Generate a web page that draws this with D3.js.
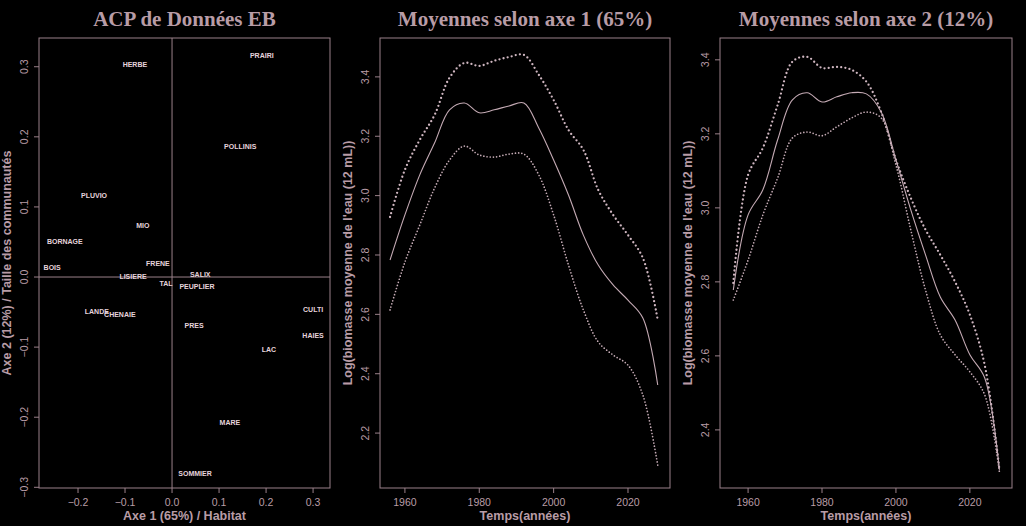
<!DOCTYPE html>
<html>
<head>
<meta charset="utf-8">
<script src="https://cdn.jsdelivr.net/npm/d3@7"></script>
<style>
  body { margin:0; background:#000; }
  text { font-family: "Liberation Sans", Arial, sans-serif; fill:#b89ca6; }
  .ttl { font-family: "Liberation Serif", serif; font-weight:bold; font-size:21px; }
  .axt { font-weight:bold; font-size:12.5px; }
  .tk { font-size:10.5px; }
  .lab { font-weight:bold; font-size:7px; fill:#e6d4dc; }
  .box, .zero { fill:none; stroke:#9a808a; stroke-width:1; }
</style>
</head>
<body>
<svg id="svg"></svg>
<script>

// ACP: sites, coordonnees sur les axes 1 et 2
var sites = ["HERBE","PRAIRI","POLLINIS","PLUVIO","MIO","BORNAGE","BOIS","FRENE","LISIERE",
             "SALIX","TAL","PEUPLIER","LANDE","CHENAIE","PRES","CULTI","HAIES","LAC","MARE","SOMMIER"];
var axe1 = [-0.079,0.191,0.145,-0.166,-0.062,-0.228,-0.255,-0.030,-0.083,
             0.060,-0.013,0.053,-0.160,-0.111,0.047,0.300,0.300,0.206,0.123,0.049];
var axe2 = [0.303,0.316,0.186,0.117,0.074,0.050,0.013,0.020,0.001,
             0.003,-0.009,-0.013,-0.049,-0.053,-0.069,-0.046,-0.083,-0.104,-0.207,-0.280];
var ticksAcpX = [-0.2,-0.1,0.0,0.1,0.2,0.3];
var ticksAcpY = [-0.3,-0.2,-0.1,0.0,0.1,0.2,0.3];

// moyennes dans le temps
var annees = [1956,1960,1964,1968,1972,1976,1980,1984,1988,1992,1996,2000,2004,2008,2012,2016,2020,2024,2028];
var axe1Haut = [2.928,3.087,3.188,3.272,3.397,3.447,3.437,3.454,3.467,3.474,3.407,3.322,3.221,3.154,3.019,2.935,2.867,2.790,2.581];
var axe1Moy  = [2.783,2.935,3.070,3.178,3.289,3.312,3.279,3.289,3.302,3.312,3.228,3.120,3.002,2.867,2.766,2.699,2.648,2.588,2.362];
var axe1Bas  = [2.615,2.776,2.901,3.026,3.120,3.167,3.137,3.130,3.140,3.140,3.070,2.935,2.766,2.615,2.507,2.463,2.429,2.328,2.092];
var axe2Haut = [2.797,3.089,3.162,3.278,3.395,3.408,3.378,3.381,3.373,3.341,3.259,3.130,3.027,2.941,2.873,2.800,2.711,2.576,2.292];
var axe2Moy  = [2.778,2.981,3.049,3.184,3.292,3.311,3.286,3.300,3.311,3.308,3.259,3.130,2.995,2.873,2.759,2.697,2.603,2.541,2.292];
var axe2Bas  = [2.751,2.859,2.981,3.081,3.189,3.205,3.195,3.219,3.243,3.259,3.243,3.116,2.941,2.778,2.657,2.603,2.557,2.495,2.286];
var ticksAnnees = [1960,1980,2000,2020];
var ticksAxe1Y = [2.2,2.4,2.6,2.8,3.0,3.2,3.4];
var ticksAxe2Y = [2.4,2.6,2.8,3.0,3.2,3.4];

svg = d3.select("#svg").attr("width",1026).attr("height",526);
svg.append("rect").attr("width",1026).attr("height",526).attr("fill","#000");

var plotTop = 38, plotBottom = 488;
var fmt1 = d3.format(".1f");

function frame(xs, ys, xt, yt, xfmt, title, xlab, ylab, ylabX){
  var x0 = xs.range()[0], x1 = xs.range()[1];
  svg.append("rect").attr("class","box")
     .attr("x",x0).attr("y",plotTop).attr("width",x1-x0).attr("height",plotBottom-plotTop);
  svg.append("text").attr("class","ttl").attr("x",(x0+x1)/2).attr("y",26)
     .attr("text-anchor","middle").text(title);

  var gx = svg.append("g");
  xt.forEach(function(t){
    gx.append("line").attr("class","box").attr("x1",xs(t)).attr("x2",xs(t)).attr("y1",plotBottom).attr("y2",plotBottom+5);
    gx.append("text").attr("class","tk").attr("x",xs(t)).attr("y",506)
      .attr("text-anchor","middle").text(xfmt(t));
  });

  yt.forEach(function(t){
    svg.append("line").attr("class","box").attr("x1",x0-5).attr("x2",x0).attr("y1",ys(t)).attr("y2",ys(t));
    svg.append("text").attr("class","tk")
      .attr("transform","translate("+(x0-11)+","+ys(t)+") rotate(-90)")
      .attr("text-anchor","middle").text(fmt1(t));
  });

  svg.append("text").attr("class","axt").attr("x",(x0+x1)/2).attr("y",520)
     .attr("text-anchor","middle").text(xlab);
  svg.append("text").attr("class","axt")
     .attr("transform","translate("+ylabX+","+((plotTop+plotBottom)/2)+") rotate(-90)")
     .attr("text-anchor","middle").text(ylab);
}

// PANEL 1 : ACP
var xA = d3.scaleLinear().domain([-0.283,0.336]).range([39,330]);
var yA = d3.scaleLinear().domain([-0.301,0.341]).range([plotBottom,plotTop]);
frame(xA, yA, ticksAcpX, ticksAcpY, fmt1, "ACP de Données EB",
      "Axe 1 (65%) / Habitat", "Axe 2 (12%) / Taille des communautés", 11);

svg.append("line").attr("class","zero").attr("x1",xA(0)).attr("x2",xA(0)).attr("y1",plotTop).attr("y2",plotBottom);
svg.append("line").attr("class","zero").attr("x1",xA.range()[0]).attr("x2",xA.range()[1]).attr("y1",yA(0)).attr("y2",yA(0));

svg.append("g").selectAll("text").data(sites).enter()
   .append("text").attr("class","lab")
   .attr("x",function(d,i){return xA(axe1[i]);})
   .attr("y",function(d,i){return yA(axe2[i]) + 2.5;})
   .attr("text-anchor","middle")
   .text(function(d){return d;});

// PANELS 2 et 3 : moyennes
function courbes(xs, ys, haut, moy, bas){
  var line = d3.line().curve(d3.curveCatmullRom)
      .x(function(d,i){return xs(annees[i]);})
      .y(function(d){return ys(d);});
  svg.append("path").attr("d",line(haut)).attr("fill","none")
     .attr("stroke","#cfb6c0").attr("stroke-width",2.3)
     .attr("stroke-linecap","round").attr("stroke-dasharray","0 4.2");
  svg.append("path").attr("d",line(moy)).attr("fill","none")
     .attr("stroke","#c4aab4").attr("stroke-width",1.1);
  svg.append("path").attr("d",line(bas)).attr("fill","none")
     .attr("stroke","#c4aab4").attr("stroke-width",1.7)
     .attr("stroke-linecap","round").attr("stroke-dasharray","0 3.2");
}

var x2 = d3.scaleLinear().domain([1953.3,2031.3]).range([380,670]);
var y2 = d3.scaleLinear().domain([2.015,3.531]).range([plotBottom,plotTop]);
frame(x2, y2, ticksAnnees, ticksAxe1Y, d3.format("d"), "Moyennes selon axe 1 (65%)",
      "Temps(années)", "Log(biomasse moyenne de l'eau (12 mL))", 352);
courbes(x2, y2, axe1Haut, axe1Moy, axe1Bas);

var x3 = d3.scaleLinear().domain([1952.4,2031.4]).range([720,1012]);
var y3 = d3.scaleLinear().domain([2.243,3.459]).range([plotBottom,plotTop]);
frame(x3, y3, ticksAnnees, ticksAxe2Y, d3.format("d"), "Moyennes selon axe 2 (12%)",
      "Temps(années)", "Log(biomasse moyenne de l'eau (12 mL))", 692);
courbes(x3, y3, axe2Haut, axe2Moy, axe2Bas);

</script>
</body>
</html>
